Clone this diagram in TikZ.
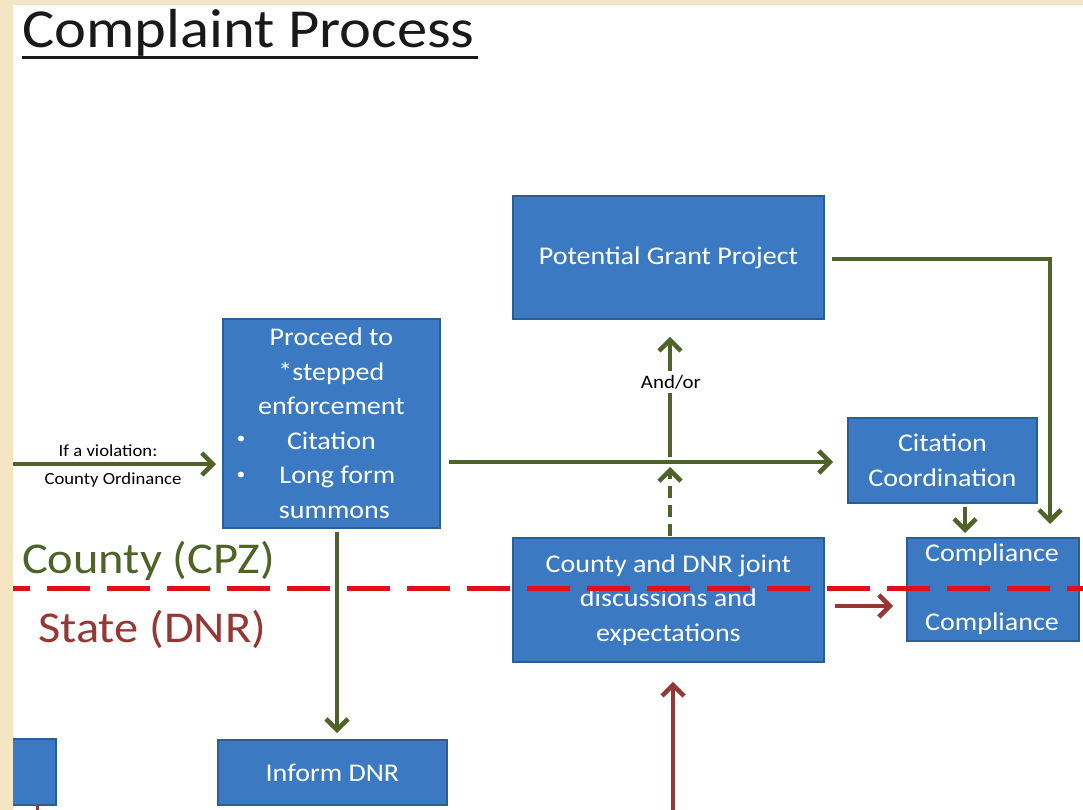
\documentclass[tikz,border=0pt]{standalone}
\usepackage{fontspec}
\setmainfont{Carlito}
\newfontfamily\cf[FakeStretch=1.1]{Carlito}
\usetikzlibrary{arrows.meta}
\definecolor{bg}{HTML}{F6E5C3}
\definecolor{boxblue}{HTML}{3B7AC2}
\definecolor{boxedge}{HTML}{2C5E96}
\definecolor{olive}{HTML}{4F6228}
\definecolor{dred}{HTML}{953735}
\definecolor{lred}{HTML}{E0101B}
\begin{document}
\begin{tikzpicture}[x=1pt,y=-1pt,
  box/.style={draw=boxedge, line width=1.8pt, fill=boxblue, text=white,
    font=\cf\fontsize{25.5}{34.5}\selectfont, align=center, inner sep=0pt, anchor=north west},
  boxtxt/.style={text=white, font=\cf\fontsize{25.5}{34.5}\selectfont, inner sep=0pt},
  garrow/.style={draw=olive, line width=4.5pt, -{Straight Barb[length=11pt,width=22pt]}},
  rarrow/.style={draw=dred, line width=4.5pt, -{Straight Barb[length=11pt,width=22pt]}},
  lbl/.style={font=\cf\fontsize{17}{20}\selectfont, inner sep=1pt, text=black},
  bigtxt/.style={font=\cf\fontsize{44}{50}\selectfont, inner sep=0pt, anchor=base west}]
\useasboundingbox (0,0) rectangle (1083,810);
\fill[white] (0,0) rectangle (1083,810);

% title
\node[font=\cf\fontsize{55}{60}\selectfont, text=black!90, inner sep=0pt, anchor=base west] (title) at (22,48) {Complaint Process};
\draw[black!90, line width=3pt] ([yshift=-10pt]title.base west) -- ([yshift=-10pt,xshift=3pt]title.base east);

% boxes
\node[box, minimum width=311pt, minimum height=123pt] (grant) at (512,195) {Potential Grant Project};
\node[box, minimum width=217pt, minimum height=209pt] (proc) at (222,318)
  {Proceed to\\*stepped\\enforcement\\Citation\\\hspace{12pt}Long form\\\hspace{6pt}summons};
\node[boxtxt, font=\cf\fontsize{16}{18}\selectfont] (b1) at (241,440) {\textbullet};
\node[boxtxt, font=\cf\fontsize{16}{18}\selectfont] (b2) at (241,476) {\textbullet};
\node[box, minimum width=189pt, minimum height=85pt] (cit) at (847,417) {Citation\\Coordination};
\node[box, minimum width=311pt, minimum height=124pt] (joint) at (512,537) {County and DNR joint\\discussions and\\expectations};
\node[box, minimum width=172pt, minimum height=103pt] (comp) at (906,537) {};
\node[boxtxt] (c1) at (992,555) {Compliance};
\node[boxtxt] (c2) at (992,624) {Compliance};
\node[box, minimum width=229pt, minimum height=65pt] (inform) at (217,739) {Inform DNR};
\node[box, minimum width=50pt, minimum height=66pt] (pbox) at (5,738) {};

% side labels
\node[bigtxt, text=olive] (county) at (22,573) {County (CPZ)};
\node[bigtxt, text=dred] (state) at (38,642) {State (DNR)};

% coordinates
\coordinate (lstart) at (13,464);
\coordinate (hy) at (0,462);
\coordinate (jn) at (670,457);
\coordinate (dtip) at (670,467);
\coordinate (rx) at (1050,0);
\coordinate (cx) at (965,0);
\coordinate (px) at (337,0);
\coordinate (ry) at (0,606);
\coordinate (bot) at (673,810);
\coordinate (pb) at (37,810);

% green connectors
\draw[garrow, shorten >=6pt] (lstart) -- (lstart -| proc.west);
\node[lbl] (viol) at (108,451) {If a violation:};
\node[lbl] (ord) at (113,480) {County Ordinance};
\draw[garrow, shorten <=8pt, shorten >=14pt] (proc.east |- hy) -- (cit.west |- hy);
\draw[garrow, shorten >=17pt] (jn) -- (jn |- grant.south);
\node[lbl, fill=white, inner sep=4pt, font=\cf\fontsize{19}{21}\selectfont] (andor) at (671,382) {And/or};
\draw[garrow, dash pattern=on 12pt off 7pt, shorten <=1pt] (dtip |- joint.north) -- (dtip);
\draw[garrow, shorten <=7pt, shorten >=13pt] ([yshift=-1.5pt]grant.east) -| (rx |- comp.north);
\draw[garrow, shorten <=3pt, shorten >=4pt] (cx |- cit.south) -- (cx |- comp.north);
\draw[garrow, shorten <=3pt, shorten >=6pt] (px |- proc.south) -- (px |- inform.north);

% red connectors
\draw[rarrow, shorten <=10pt, shorten >=13pt] (joint.east |- ry) -- (comp.west |- ry);
\draw[rarrow, shorten >=19pt] (bot) -- (bot |- joint.south);
\draw[dred, line width=3pt] (pb |- pbox.south) -- (pb);

% boundary line
\draw[lred, line width=5pt, dash pattern=on 43pt off 17pt, dash phase=26pt] (13,588) -- (1083,588);

% beige border
\fill[bg] (0,0) rectangle (13,810);
\fill[bg] (0,0) rectangle (1083,5);
\end{tikzpicture}
\end{document}
